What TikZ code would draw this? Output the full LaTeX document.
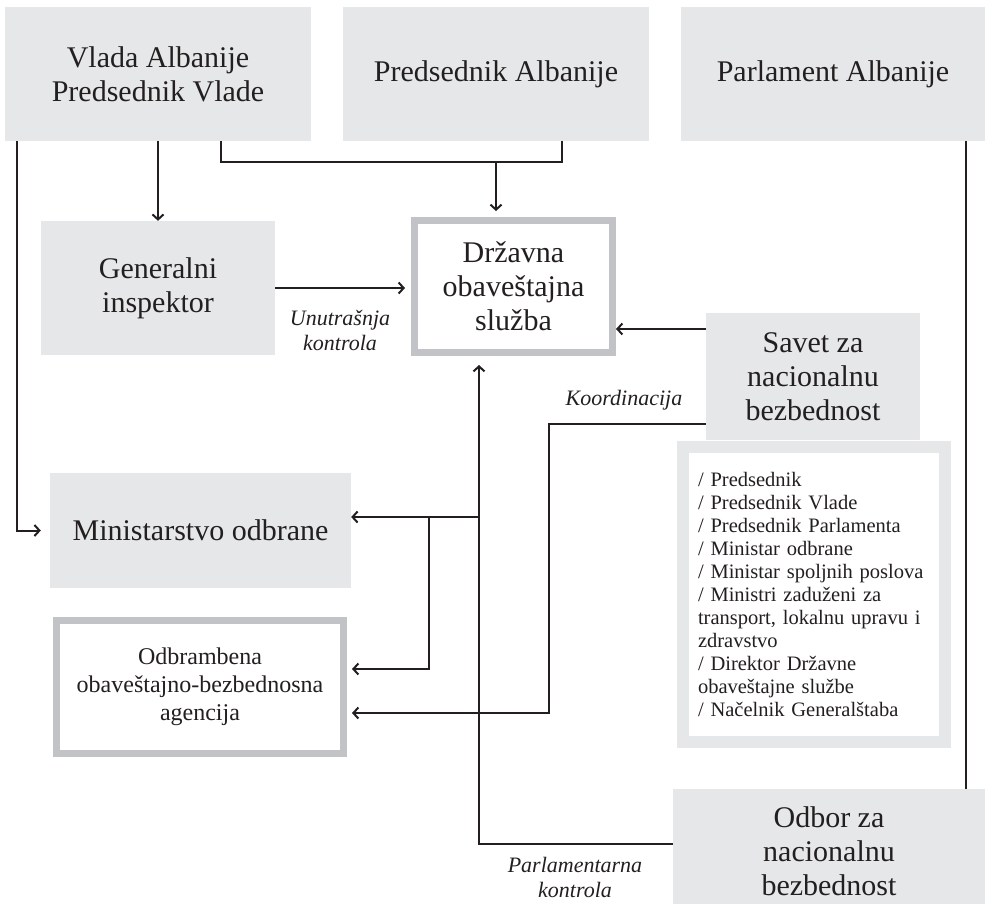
\documentclass[tikz,border=0pt]{standalone}
\usepackage{fontspec}
\setmainfont{Liberation Serif}
\usetikzlibrary{arrows.meta}
\definecolor{boxgray}{HTML}{E6E7E8}
\definecolor{framegray}{HTML}{C2C3C6}
\definecolor{ink}{HTML}{231F20}
\begin{document}
\begin{tikzpicture}[x=1pt,y=-1pt,
    every node/.style={text=ink},
    greybox/.style={fill=boxgray,align=center,font=\fontsize{30}{34}\selectfont},
    framebox/.style={draw=framegray,line width=7pt,fill=white,align=center},
    conn/.style={draw=ink,line width=2pt},
    arr/.style={conn,-{Straight Barb[length=5pt,width=11pt]}},
    lbl/.style={font=\fontsize{22}{25}\selectfont\itshape,align=center}]
    \useasboundingbox (0,0) rectangle (985,903);

    % gornji red
    \node[greybox,minimum width=306pt,minimum height=134pt] (vlada) at (158,74) {Vlada Albanije\\Predsednik Vlade};
    \node[greybox,minimum width=306pt,minimum height=134pt] (pred) at (496,74) {Predsednik Albanije};
    \node[greybox,minimum width=304pt,minimum height=134pt] (parl) at (833,74) {Parlament Albanije};

    \node[greybox,minimum width=234pt,minimum height=134pt] (gen) at (158,288) {Generalni\\inspektor};
    \node[framebox,font=\fontsize{30}{34}\selectfont,minimum width=198pt,minimum height=132pt] (dos) at (513.5,286.5) {Državna\\obaveštajna\\služba};

    \node[greybox,minimum width=214pt,minimum height=127pt] (savet) at (813,376.5) {Savet za\\nacionalnu\\bezbednost};
    \node[draw=boxgray,line width=12pt,fill=white,minimum width=262pt,minimum height=295pt,
        text width=232pt,align=left,font=\fontsize{20.5}{23}\selectfont] (clanovi) at (814,594.5)
        {/ Predsednik\\/ Predsednik Vlade\\/ Predsednik Parlamenta\\/ Ministar odbrane\\/ Ministar spoljnih poslova\\/ Ministri zaduženi za\\transport, lokalnu upravu i\\zdravstvo\\/ Direktor Državne\\obaveštajne službe\\/ Načelnik Generalštaba};

    \node[greybox,minimum width=301pt,minimum height=115pt] (min) at (200.5,530.5) {Ministarstvo odbrane};
    \node[framebox,font=\fontsize{24}{28}\selectfont,minimum width=287pt,minimum height=133pt] (odb) at (200,687) {Odbrambena\\obaveštajno-bezbednosna\\agencija};
    \node[greybox,minimum width=312pt,minimum height=124pt] (odbor) at (829,851) {Odbor za\\nacionalnu\\bezbednost};

    % pomocne tacke
    \coordinate (lft) at (17,0);
    \coordinate (bl) at (221,162);
    \coordinate (br) at (562,162);
    \coordinate (bm) at (496,162);
    \coordinate (ka) at (0,329);
    \coordinate (kc) at (549,424);
    \coordinate (kd) at (549,713);
    \coordinate (pc) at (479,844);
    \coordinate (pm) at (479,517);
    \coordinate (pb) at (429,517);
    \coordinate (pd) at (429,669);
    \coordinate (rp) at (966,0);

    \draw[arr,shorten >=9pt] (vlada.south -| lft) |- (min.west);
    \draw[arr] (vlada.south) -- (gen.north);
    \draw[conn] (vlada.south -| bl) -- (bl) -- (br) -- (pred.south -| br);
    \draw[arr,shorten >=6pt] (bm) -- (dos.north -| bm);

    \draw[arr,shorten >=6pt] (gen.east) -- (gen.east -| dos.west);
    \node[lbl] (unutr) at (340,330) {Unutrašnja\\kontrola};

    \draw[arr] (savet.west |- ka) -- (dos.east |- ka);
    \draw[arr,shorten >=5pt] (savet.west |- kc) -- (kc) -- (kd) -- (kd -| odb.east);
    \node[lbl] (koord) at (624,400) {Koordinacija};

    \draw[arr,shorten >=9pt] (odbor.west |- pc) -- (pc) -- (pc |- dos.south);
    \draw[arr] (pm) -- (pm -| min.east);
    \draw[arr,shorten >=5pt] (pb) -- (pd) -- (pd -| odb.east);
    \node[lbl] (parlk) at (575,877) {Parlamentarna\\kontrola};

    \draw[conn] (parl.south -| rp) -- (odbor.north -| rp);
\end{tikzpicture}
\end{document}
